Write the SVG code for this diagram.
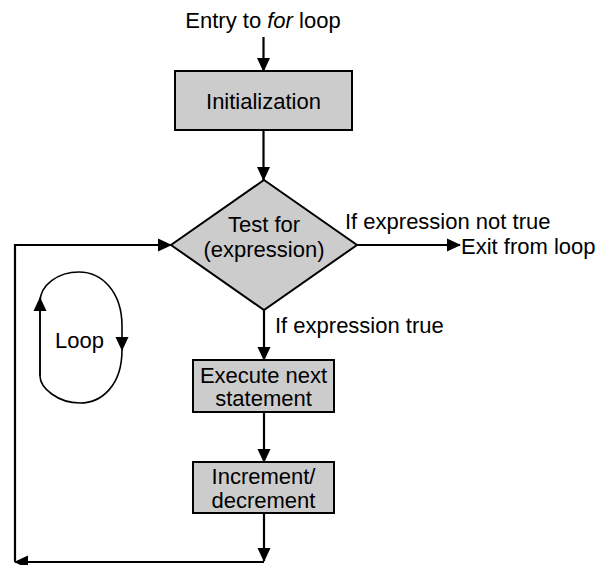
<svg xmlns="http://www.w3.org/2000/svg" width="599" height="565" viewBox="0 0 599 565">
<style>
text{font-family:"Liberation Sans",Arial,sans-serif;font-size:22px;fill:#000}
.box{fill:#cccccc;stroke:#000;stroke-width:2}
.ln{fill:none;stroke:#000;stroke-width:2.2}
.thin{fill:none;stroke:#000;stroke-width:1.6}
</style>
<defs>
<marker id="ah" markerUnits="userSpaceOnUse" markerWidth="14" markerHeight="14" refX="13" refY="7" orient="auto">
<path d="M0,0.5 L14,7 L0,13.5 z" fill="#000"/>
</marker>
</defs>
<rect width="599" height="565" fill="#fff"/>
<g id="entry"><text x="263" y="28" text-anchor="middle">Entry to <tspan font-style="italic">for</tspan> loop</text></g>
<g id="init"><rect class="box" x="175" y="71" width="177" height="59"/><text x="263.5" y="109" text-anchor="middle">Initialization</text></g>
<g id="test"><polygon class="box" points="264,180 357,245 264,310 171,245"/><text x="264" y="232" text-anchor="middle">Test for</text><text x="264" y="257" text-anchor="middle">(expression)</text></g>
<g id="exit"><text x="461" y="254">Exit from loop</text></g>
<g id="execute"><rect class="box" x="193" y="360" width="141" height="52"/><text x="263.5" y="383" text-anchor="middle">Execute next</text><text x="263.5" y="406" text-anchor="middle">statement</text></g>
<g id="incr"><rect class="box" x="193" y="462" width="141" height="51"/><text x="263.5" y="484" text-anchor="middle">Increment/</text><text x="263.5" y="508" text-anchor="middle">decrement</text></g>
<g id="loop"><text x="55" y="348">Loop</text>
<path class="thin" d="M40,376 L40,302 C40,285 58,272 79,272 C102,272 122,292 122,326 L122,350"  marker-end="url(#ah)"/>
<path class="thin" d="M122,350 C122,385 102,403 80,403 C58,403 40,388 40,376"/>
<path class="thin" d="M40,376 L40,298" marker-end="url(#ah)"/>
</g>
<g id="connectors">
<line class="ln" x1="263.5" y1="37" x2="263.5" y2="71" marker-end="url(#ah)"/>
<line class="ln" x1="263.5" y1="130" x2="263.5" y2="180" marker-end="url(#ah)"/>
<line class="ln" x1="357" y1="245" x2="460" y2="245" marker-end="url(#ah)"/>
<text x="345" y="229">If expression not true</text>
<line class="ln" x1="264" y1="310" x2="264" y2="360" marker-end="url(#ah)"/>
<text x="275" y="333">If expression true</text>
<line class="ln" x1="264" y1="412" x2="264" y2="462" marker-end="url(#ah)"/>
<line class="ln" x1="264" y1="513" x2="264" y2="561" marker-end="url(#ah)"/>
<line class="ln" x1="264" y1="562" x2="15" y2="562" marker-end="url(#ah)"/>
<polyline class="ln" points="15,562 15,245 171,245" marker-end="url(#ah)"/>
</g>
</svg>
